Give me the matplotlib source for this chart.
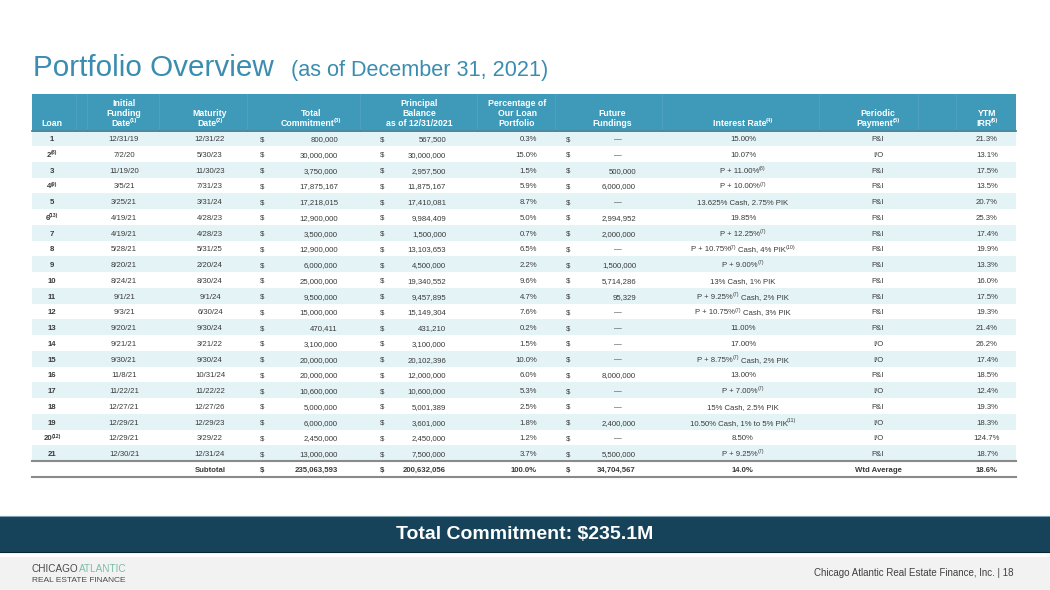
import re
import matplotlib
matplotlib.use("Agg")
import matplotlib.pyplot as plt
from matplotlib.patches import Rectangle

plt.rcParams['font.family'] = ['Liberation Sans', 'DejaVu Sans']

# --- table data ---
loans = ['1', '2^(8)', '3', '4^(9)', '5', '6^(13)', '7', '8', '9', '10', '11', '12', '13',
         '14', '15', '16', '17', '18', '19', '20^(12)', '21']
fund_dates = ['12/31/19', '7/2/20', '11/19/20', '3/5/21', '3/25/21', '4/19/21', '4/19/21',
              '5/28/21', '8/20/21', '8/24/21', '9/1/21', '9/3/21', '9/20/21', '9/21/21',
              '9/30/21', '11/8/21', '11/22/21', '12/27/21', '12/29/21', '12/29/21', '12/30/21']
maturity = ['12/31/22', '5/30/23', '11/30/23', '7/31/23', '3/31/24', '4/28/23', '4/28/23',
            '5/31/25', '2/20/24', '8/30/24', '9/1/24', '6/30/24', '9/30/24', '3/21/22',
            '9/30/24', '10/31/24', '11/22/22', '12/27/26', '12/29/23', '3/29/22', '12/31/24']
commitment = [800000, 30000000, 3750000, 17875167, 17218015, 12900000, 3500000, 12900000,
              6000000, 25000000, 9500000, 15000000, 470411, 3100000, 20000000, 20000000,
              10600000, 5000000, 6000000, 2450000, 13000000]
principal = [567500, 30000000, 2957500, 11875167, 17410081, 9984409, 1500000, 13103653,
             4500000, 19340552, 9457895, 15149304, 431210, 3100000, 20102396, 12000000,
             10600000, 5001389, 3601000, 2450000, 7500000]
pct_portfolio = [0.3, 15.0, 1.5, 5.9, 8.7, 5.0, 0.7, 6.5, 2.2, 9.6, 4.7, 7.6, 0.2, 1.5,
                 10.0, 6.0, 5.3, 2.5, 1.8, 1.2, 3.7]
future = [None, None, 500000, 6000000, None, 2994952, 2000000, None, 1500000, 5714286,
          95329, None, None, None, None, 8000000, None, None, 2400000, None, 5500000]
interest = ['15.00%', '10.07%', 'P + 11.00%^(8)', 'P + 10.00%^(7)',
            '13.625% Cash, 2.75% PIK', '19.85%', 'P + 12.25%^(7)',
            'P + 10.75%^(7) Cash, 4% PIK^(10)', 'P + 9.00%^(7)',
            '13% Cash, 1% PIK', 'P + 9.25%^(7) Cash, 2% PIK',
            'P + 10.75%^(7) Cash, 3% PIK', '11.00%', '17.00%',
            'P + 8.75%^(7) Cash, 2% PIK', '13.00%', 'P + 7.00%^(7)',
            '15% Cash, 2.5% PIK', '10.50% Cash, 1% to 5% PIK^(11)', '8.50%',
            'P + 9.25%^(7)']
payment = ['P&I', 'I/O', 'P&I', 'P&I', 'P&I', 'P&I', 'P&I', 'P&I', 'P&I', 'P&I', 'P&I',
           'P&I', 'P&I', 'I/O', 'I/O', 'P&I', 'I/O', 'P&I', 'I/O', 'I/O', 'P&I']
irr = [21.3, 13.1, 17.5, 13.5, 20.7, 25.3, 17.4, 19.9, 13.3, 16.0, 17.5, 19.3, 21.4, 26.2,
       17.4, 18.5, 12.4, 19.3, 18.3, 124.7, 18.7]

subtotal_commit = 235063593
subtotal_principal = 200632056
subtotal_pct = 100.0
subtotal_future = 34704567
avg_rate = 14.0
avg_irr = 18.6

headers = [['Loan'], ['Initial', 'Funding', 'Date^(1)'], ['Maturity', 'Date^(2)'],
           ['Total', 'Commitment^(3)'], ['Principal', 'Balance', 'as of 12/31/2021'],
           ['Percentage of', 'Our Loan', 'Portfolio'], ['Future', 'Fundings'],
           ['Interest Rate^(4)'], ['Periodic', 'Payment^(5)'], ['YTM', 'IRR^(6)']]
header_x = [52, 124, 210, 311, 419, 517, 612, 743, 878, 987]

# colours
TEAL = '#3f9ab9'
TITLE = '#3a8db0'
SHADE = '#e3f3f6'
TXT = '#3a3a3a'
NAVY = '#16435a'

fig = plt.figure(figsize=(10.5, 5.9), dpi=100)
ax = fig.add_axes([0, 0, 1, 1])
ax.set_xlim(0, 1050)
ax.set_ylim(590, 0)
ax.axis('off')
renderer = fig.canvas.get_renderer()


def rich(x, y, s, ha='center', size=5.6, bold=False, color=TXT):
    # text with "^(n)" footnote markers drawn as small raised text
    em = size * 100 / 72
    parts = re.split(r'\^(\(\d+\))', s)
    objs, cur = [], 0.0
    for k, p in enumerate(parts):
        if not p:
            continue
        sup = k % 2 == 1
        if p.startswith(' '):
            cur += 0.22 * em
            p = p.lstrip()
        fsz = size * 0.68 if sup else size
        yy = y - 0.36 * em if sup else y
        t = ax.text(0, yy, p, fontsize=fsz, color=color, va='baseline', ha='left',
                    fontweight='bold' if bold else 'normal')
        w = t.get_window_extent(renderer=renderer).width
        if sup:
            cur -= 0.06 * em
        objs.append((t, cur))
        cur += w
    if ha == 'center':
        x0 = x - cur / 2
    elif ha == 'right':
        x0 = x - cur
    else:
        x0 = x
    for t, off in objs:
        t.set_x(x0 + off)


# title
ax.text(33, 76, 'Portfolio Overview', fontsize=21.3, color=TITLE, va='baseline')
ax.text(291, 76, '(as of December 31, 2021)', fontsize=15.6, color=TITLE, va='baseline')

# header band
L, R = 32, 1016
ax.add_patch(Rectangle((L, 94), R - L, 36, color=TEAL, lw=0))
for xs in [76, 87, 159, 247, 360, 477, 555, 662, 819, 918, 956]:
    ax.plot([xs, xs], [94, 130], color='#4ea3c0', lw=0.6)
ax.plot([L, R], [130.5, 130.5], color='#2c7790', lw=1.2)
for lines, hx in zip(headers, header_x):
    for j, line in enumerate(reversed(lines)):
        rich(hx, 125.5 - j * 10, line, size=6.3, bold=True, color='white')

# body rows
y0, dy = 138.3, 15.75


def cell(x, y, s, ha='center', bold=False):
    rich(x, y + 2.8, s, ha=ha, bold=bold)


for i in range(len(loans)):
    yc = y0 + i * dy
    if i % 2 == 0:
        ax.add_patch(Rectangle((L, yc - dy / 2), R - L, dy, color=SHADE, lw=0))
    cell(52, yc, loans[i], bold=True)
    cell(124, yc, fund_dates[i])
    cell(210, yc, maturity[i])
    cell(262, yc, '$')
    cell(338, yc, f'{commitment[i]:,}', ha='right')
    cell(382, yc, '$')
    cell(446, yc, f'{principal[i]:,}', ha='right')
    cell(537, yc, f'{pct_portfolio[i]:.1f}%', ha='right')
    cell(568, yc, '$')
    if future[i] is None:
        cell(618, yc, '\u2014')
    else:
        cell(636, yc, f'{future[i]:,}', ha='right')
    cell(743, yc, interest[i])
    cell(878, yc, payment[i])
    cell(987, yc, f'{irr[i]:.1f}%')

# subtotal row
y_top = y0 + 20 * dy + dy / 2
ax.plot([L, R], [y_top + 0.3, y_top + 0.3], color='#8a8a8a', lw=1.5)
ys = y_top + 8.3
cell(210, ys, 'Subtotal', bold=True)
cell(262, ys, '$', bold=True)
cell(338, ys, f'{subtotal_commit:,}', ha='right', bold=True)
cell(382, ys, '$', bold=True)
cell(446, ys, f'{subtotal_principal:,}', ha='right', bold=True)
cell(537, ys, f'{subtotal_pct:.1f}%', ha='right', bold=True)
cell(568, ys, '$', bold=True)
cell(636, ys, f'{subtotal_future:,}', ha='right', bold=True)
cell(743, ys, f'{avg_rate:.1f}%', bold=True)
cell(878, ys, 'Wtd Average', bold=True)
cell(987, ys, f'{avg_irr:.1f}%', bold=True)
ax.plot([L, R], [y_top + 16.3, y_top + 16.3], color='#8a8a8a', lw=1.5)

# footer band
ax.add_patch(Rectangle((0, 516), 1050, 36, color=NAVY, lw=0))
ax.plot([0, 1050], [516.3, 516.3], color='#7a9fb0', lw=0.8)
ax.plot([0, 1050], [551.7, 551.7], color='#0b2633', lw=0.8)
ax.text(525, 534.5, 'Total Commitment: $235.1M', ha='center', va='center', fontsize=14,
        fontweight='bold', color='white')

ax.add_patch(Rectangle((0, 557), 1050, 33, color='#f2f2f2', lw=0))
t1 = ax.text(32, 571.5, 'CHICAGO', fontsize=7.2, color='#4a4a4a', va='baseline')
bb = t1.get_window_extent(renderer=renderer)
ax.text(32 + bb.width, 571.5, 'ATLANTIC', fontsize=7.2, color='#7bbda6', va='baseline')
ax.text(32, 582, 'REAL ESTATE FINANCE', fontsize=6, color='#4a4a4a', va='baseline')
ax.text(1013, 576.5, 'Chicago Atlantic Real Estate Finance, Inc. | 18', ha='right',
        va='baseline', fontsize=7, color='#404040')

fig.savefig('out.png', dpi=100)
